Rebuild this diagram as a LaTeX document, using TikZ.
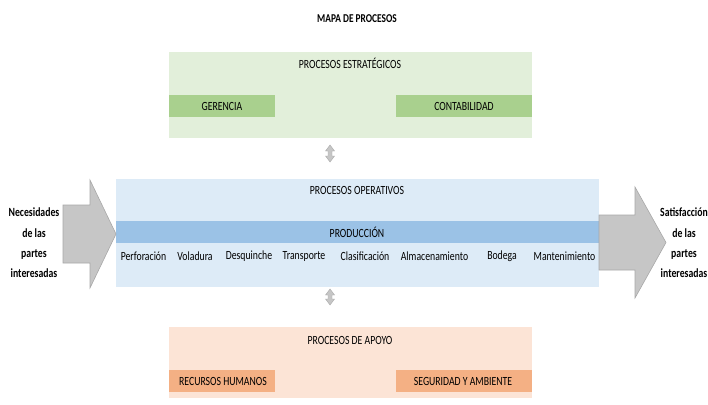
\documentclass[tikz,border=0pt]{standalone}
\usepackage{fontspec}
\setmainfont{Carlito}[FakeStretch=0.78]
\definecolor{grnL}{HTML}{E2EFDA}
\definecolor{grnB}{HTML}{A9D08E}
\definecolor{bluL}{HTML}{DDEBF7}
\definecolor{bluB}{HTML}{9BC2E6}
\definecolor{orgL}{HTML}{FCE4D6}
\definecolor{orgB}{HTML}{F4B084}
\definecolor{arrG}{HTML}{C6C6C6}
\definecolor{arrD}{HTML}{A8A8A8}
\tikzset{
  box/.style={rectangle, inner sep=0pt, outer sep=0pt, draw=none},
  txt/.style={inner sep=0pt, font=\fontsize{12.5}{14}\selectfont, text=black},
  ttl/.style={inner sep=0pt, font=\fontsize{12}{14}\selectfont\bfseries, text=black},
  side/.style={inner sep=0pt, align=center, font=\fontsize{12.5}{20.3}\selectfont\bfseries, text=black},
  bigarrow/.style={fill=arrG, draw=arrD, line width=0.6pt},
  udarrow/.style={fill=arrG, draw=arrD, line width=0.4pt},
}
\begin{document}
\begin{tikzpicture}[x=1pt, y=-1pt]
\useasboundingbox (0,0) rectangle (708,404);
% title
\node[ttl] (title) at (357,19) {MAPA DE PROCESOS};
% strategic
\node[box, fill=grnL, minimum width=363pt, minimum height=86pt] (estr) at (350.5,95) {};
\node[txt] (estrT) at (350,63) {PROCESOS ESTRATÉGICOS};
\node[box, fill=grnB, minimum width=106pt, minimum height=22pt] (ger) at (222,106) {};
\node[txt] (gerT) at (222,106) {GERENCIA};
\node[box, fill=grnB, minimum width=136pt, minimum height=22pt] (cont) at (464,106) {};
\node[txt] (contT) at (464,106) {CONTABILIDAD};
% operative
\node[box, fill=bluL, minimum width=483pt, minimum height=108pt] (oper) at (357.5,233) {};
\node[txt] (operT) at (357,190) {PROCESOS OPERATIVOS};
\node[box, fill=bluB, minimum width=483pt, minimum height=22pt] (prod) at (357.5,232) {};
\node[txt] (prodT) at (357,232) {PRODUCCIÓN};
\node[txt] (p1) at (143.5,256) {Perforación};
\node[txt] (p2) at (195,256) {Voladura};
\node[txt] (p3) at (249,256) {Desquinche};
\node[txt] (p4) at (304,256) {Transporte};
\node[txt] (p5) at (365,256) {Clasificación};
\node[txt] (p6) at (434.5,256) {Almacenamiento};
\node[txt] (p7) at (502,256) {Bodega};
\node[txt] (p8) at (564.5,256) {Mantenimiento};
% support
\node[box, fill=orgL, minimum width=363pt, minimum height=71pt] (apoyo) at (350.5,362.5) {};
\node[txt] (apoyoT) at (350,340) {PROCESOS DE APOYO};
\node[box, fill=orgB, minimum width=106pt, minimum height=22pt] (rh) at (222,381) {};
\node[txt] (rhT) at (223,381) {RECURSOS HUMANOS};
\node[box, fill=orgB, minimum width=136pt, minimum height=22pt] (seg) at (464,381) {};
\node[txt] (segT) at (463,381) {SEGURIDAD Y AMBIENTE};
% big arrows
\filldraw[bigarrow] (63,205) -- (90,205) -- (90,180) -- (116,234) -- (90,288) -- (90,263) -- (63,263) -- cycle;
\filldraw[bigarrow] (599,215) -- (635,215) -- (635,187) -- (666,242.5) -- (635,298) -- (635,270) -- (599,270) -- cycle;
\node[side] (nec) at (34,243) {Necesidades\\de las\\partes\\interesadas};
\node[side] (sat) at (684,243) {Satisfacción\\de las\\partes\\interesadas};
% up-down arrows
\filldraw[udarrow] (330,145) -- (334.5,151) -- (332,151) -- (332,156) -- (334.5,156) -- (330,162) -- (325.5,156) -- (328,156) -- (328,151) -- (325.5,151) -- cycle;
\filldraw[udarrow] (330,289) -- (334.5,295) -- (332,295) -- (332,299) -- (334.5,299) -- (330,305) -- (325.5,299) -- (328,299) -- (328,295) -- (325.5,295) -- cycle;
\end{tikzpicture}
\end{document}
